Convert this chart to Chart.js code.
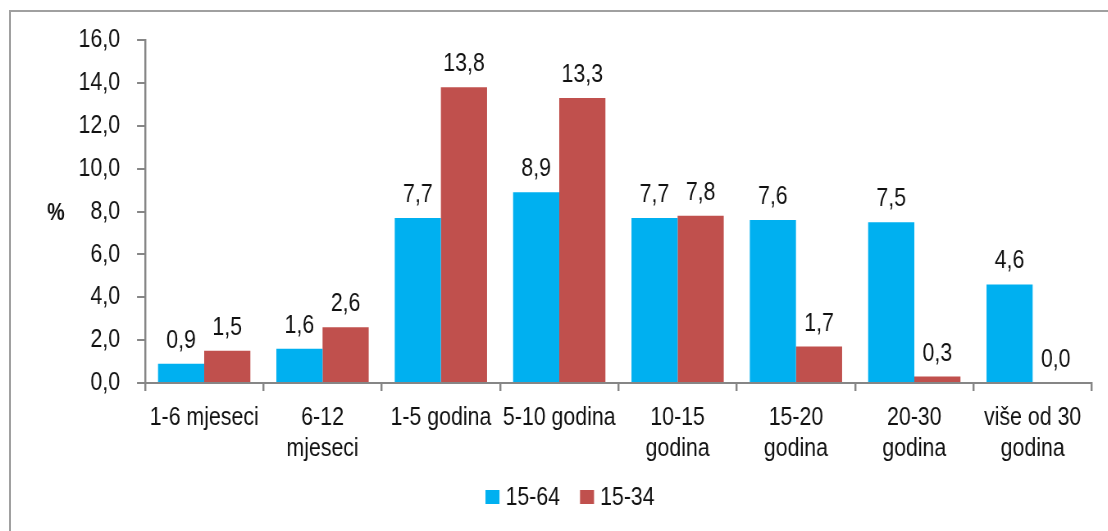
<!DOCTYPE html>
<html>
<head>
<meta charset="utf-8">
<script src="https://cdn.jsdelivr.net/npm/chart.js@4/dist/chart.umd.min.js"></script>
<style>
  html, body { margin: 0; padding: 0; background: #fff; overflow: hidden; }
  #wrap { position: relative; width: 1108px; height: 531px; overflow: hidden; }
  #frame { position: absolute; left: 9px; top: 10px; width: 1200px; height: 600px; border: 2px solid #a0a0a0; box-sizing: border-box; }
  #squash { position: absolute; left: 0; top: 0; width: 1351px; height: 531px; transform: scaleX(0.82); transform-origin: 0 0; }
  canvas { position: absolute; left: 0; top: 0; }
</style>
</head>
<body>
<div id="wrap">
  <div id="frame"></div>
  <div id="squash"><canvas id="c" width="1351" height="531"></canvas></div>
</div>
<script>
const categories = ["1-6 mjeseci", ["6-12", "mjeseci"], "1-5 godina", "5-10 godina", ["10-15", "godina"], ["15-20", "godina"], ["20-30", "godina"], ["više od 30", "godina"]];
const seriesNames = ["15-64", "15-34"];
const values1564 = [0.9, 1.6, 7.7, 8.9, 7.7, 7.6, 7.5, 4.6];
const values1534 = [1.5, 2.6, 13.8, 13.3, 7.8, 1.7, 0.3, 0.0];
const yTicks = [0, 2, 4, 6, 8, 10, 12, 14, 16];
const yAxisLabel = "%";

const SX = 0.82; // horizontal squash of the drawing (condensed text look)
const X = px => px / SX;
const FONT = "'Liberation Sans', Arial, sans-serif";
const colors = ["#00B0F0", "#C0504D"];
const fmt = v => v.toFixed(1).replace('.', ',');

const extras = {
  id: 'extras',
  afterDatasetsDraw(chart) {
    const ctx = chart.ctx;
    ctx.save();
    ctx.font = "26px " + FONT;
    ctx.fillStyle = "#111";
    ctx.textAlign = "center";
    ctx.textBaseline = "alphabetic";
    chart.data.datasets.forEach((ds, di) => {
      chart.getDatasetMeta(di).data.forEach((bar, i) => {
        ctx.fillText(fmt(ds.data[i]), bar.x, bar.y - 16);
      });
    });
    // y label
    ctx.font = "bold 24px " + FONT;
    ctx.textBaseline = "middle";
    ctx.fillText(yAxisLabel, X(56), chart.scales.y.getPixelForValue(8) + 2);
    // legend
    ctx.font = "26px " + FONT;
    const box = X(14), gap = X(6), spacing = X(20);
    const widths = seriesNames.map(n => ctx.measureText(n).width);
    const total = widths.reduce((a, w) => a + box + gap + w, 0) + spacing;
    let x = X(570) - total / 2;
    const y = 497;
    ctx.textAlign = "left";
    seriesNames.forEach((n, i) => {
      ctx.fillStyle = colors[i];
      ctx.fillRect(x, y - 7, box, 14);
      ctx.fillStyle = "#111";
      ctx.fillText(n, x + box + gap, y + 1);
      x += box + gap + widths[i] + spacing;
    });
    ctx.restore();
  }
};

new Chart(document.getElementById('c'), {
  type: 'bar',
  data: {
    labels: categories,
    datasets: [
      { label: seriesNames[0], data: values1564, backgroundColor: colors[0], categoryPercentage: 0.78, barPercentage: 1.0 },
      { label: seriesNames[1], data: values1534, backgroundColor: colors[1], categoryPercentage: 0.78, barPercentage: 1.0 }
    ]
  },
  options: {
    responsive: false,
    animation: false,
    events: [],
    layout: { padding: { top: 40, right: X(16), left: 0, bottom: 0 } },
    plugins: { legend: { display: false }, tooltip: { enabled: false } },
    scales: {
      x: {
        grid: { drawOnChartArea: false, drawTicks: true, tickLength: 8, color: "#868686", lineWidth: X(2), offset: true },
        border: { color: "#868686", width: 2 },
        ticks: { color: "#111", font: { family: FONT, size: 26, lineHeight: 1.17 }, padding: 12, maxRotation: 0, autoSkip: false },
        afterFit(s) { s.height = 148; }
      },
      y: {
        min: 0, max: 16,
        afterBuildTicks(s) { s.ticks = yTicks.map(v => ({ value: v })); },
        grid: { drawOnChartArea: false, drawTicks: true, tickLength: X(8), color: "#868686", lineWidth: 2 },
        border: { color: "#868686", width: X(2) },
        ticks: { color: "#111", font: { family: FONT, size: 26 }, padding: X(17), callback: v => fmt(v) },
        afterFit(s) { s.width = X(145); }
      }
    }
  },
  plugins: [extras]
});
</script>
</body>
</html>
